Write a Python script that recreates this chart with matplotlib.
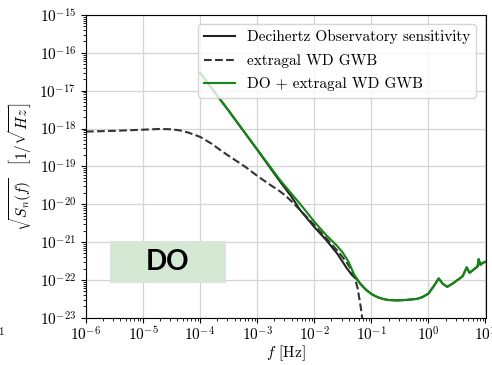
import matplotlib
matplotlib.use("Agg")
import matplotlib.pyplot as plt
import matplotlib.ticker as mticker
import numpy as np

plt.rcParams['font.family'] = 'serif'
plt.rcParams['font.serif'] = ['cmr10']
plt.rcParams['mathtext.fontset'] = 'cm'
plt.rcParams['axes.formatter.use_mathtext'] = True
plt.rcParams['font.size'] = 11

# values, as log10(f [Hz]) and log10(sqrt(S_n))
do_logf = [-4.0, -3.5, -3.0, -2.6, -2.4, -2.25, -2.0, -1.8, -1.6, -1.43, -1.34, -1.25,
           -1.2, -1.1, -1.0, -0.9, -0.8, -0.7, -0.55, -0.4, -0.2, -0.1, 0.0, 0.1, 0.18,
           0.25, 0.33, 0.42, 0.53, 0.6, 0.67, 0.72, 0.78, 0.82, 0.86, 0.88, 0.91, 0.95, 1.0]
do_logs = [-16.53, -17.53, -18.56, -19.40, -19.80, -20.15, -20.60, -20.93, -21.30, -21.69, -21.87, -21.99,
           -22.09, -22.25, -22.37, -22.45, -22.50, -22.53, -22.54, -22.53, -22.50, -22.45, -22.36, -22.15, -21.96,
           -22.10, -22.18, -22.10, -21.98, -21.90, -21.67, -21.81, -21.74, -21.69, -21.65, -21.45, -21.60, -21.55, -21.52]

wd_logf = [-6.0, -5.5, -5.0, -4.7, -4.5, -4.35, -4.2, -4.0, -3.8, -3.6, -3.4, -3.2, -3.0, -2.8,
           -2.6, -2.5, -2.4, -2.25, -2.1, -2.0, -1.8, -1.6, -1.54, -1.45, -1.37, -1.3, -1.24,
           -1.19, -1.16, -1.14]
wd_logs = [-18.08, -18.06, -18.03, -18.01, -18.02, -18.05, -18.11, -18.22, -18.40, -18.62, -18.82, -19.02, -19.25, -19.46,
           -19.66, -19.78, -19.92, -20.15, -20.39, -20.55, -20.88, -21.22, -21.33, -21.50, -21.68, -21.90, -22.22,
           -22.68, -23.0, -23.3]

tot_logf = [-4.0, -3.5, -3.0, -2.6, -2.4, -2.2, -2.0, -1.8, -1.6, -1.5, -1.4, -1.3, -1.25,
            -1.2, -1.1, -1.0, -0.9, -0.8, -0.7, -0.55, -0.4, -0.2, -0.1, 0.0, 0.1, 0.18,
            0.25, 0.33, 0.42, 0.53, 0.6, 0.67, 0.72, 0.78, 0.82, 0.86, 0.88, 0.91, 0.95, 1.0]
tot_logs = [-16.53, -17.53, -18.55, -19.36, -19.72, -20.08, -20.46, -20.80, -21.10, -21.28, -21.52, -21.86, -21.97,
            -22.09, -22.25, -22.37, -22.45, -22.50, -22.53, -22.54, -22.53, -22.50, -22.45, -22.36, -22.15, -21.96,
            -22.10, -22.18, -22.10, -21.98, -21.90, -21.67, -21.81, -21.74, -21.69, -21.65, -21.45, -21.60, -21.55, -21.52]

labels = ['Decihertz Observatory sensitivity', 'extragal WD GWB', 'DO + extragal WD GWB']

fig = plt.figure(figsize=(4.92, 3.65), dpi=100)
ax = fig.add_axes([86/492, 1 - 317.8/365, (485.5 - 86)/492, (317.8 - 15)/365])

ax.loglog(10**np.array(do_logf), 10**np.array(do_logs), color='#222222', lw=1.5, label=labels[0])
ax.loglog(10**np.array(wd_logf), 10**np.array(wd_logs), '--', color='#333333', lw=1.5, label=labels[1])
ax.loglog(10**np.array(tot_logf), 10**np.array(tot_logs), color='#118811', lw=1.5, label=labels[2])

ax.set_xlim(1e-6, 1e1)
ax.set_ylim(1e-23, 1e-15)
for a in (ax.xaxis, ax.yaxis):
    a.set_major_locator(mticker.LogLocator(base=10, numticks=100))
    a.set_minor_locator(mticker.LogLocator(base=10, subs=np.arange(2, 10), numticks=100))
    a.set_minor_formatter(mticker.NullFormatter())
ax.tick_params(axis='x', which='major', pad=2)
ax.grid(True, which='major', color='#d4d4d4', lw=0.9)
ax.set_axisbelow(True)

ax.set_xlabel(r'$f$ [Hz]', labelpad=0)
ax.set_ylabel(r'$\sqrt{S_n(f)}\quad\left[1/\sqrt{Hz}\right]$')
ax.legend(loc='upper right', fontsize=11, framealpha=0.8, labelspacing=0.62,
          borderaxespad=0.6)

# "DO" tag
ax.add_patch(plt.Rectangle((110/492, 1 - 283/365), 116/492, 42/365, transform=fig.transFigure,
                           facecolor='#d5e8d4', edgecolor='none', zorder=5))
fig.text(168/492, 1 - 262/365, 'DO', family='Lato', weight='bold', fontsize=20,
         ha='center', va='center', zorder=6)

# fragment of a neighbouring label at the left edge
fig.text(-2/492, 1 - 332/365, '1', fontsize=8, va='center')

fig.savefig('out.png', dpi=100)
